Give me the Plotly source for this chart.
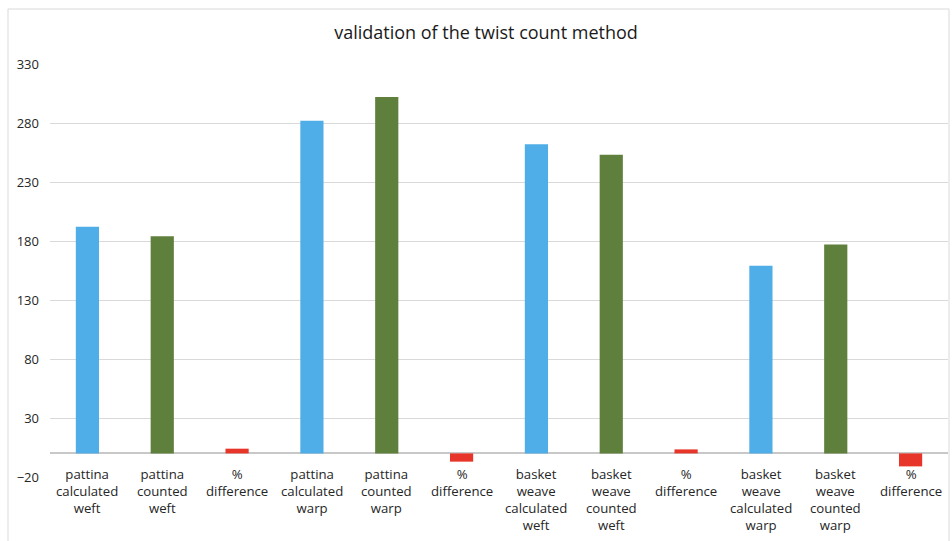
import plotly.graph_objects as go

# ---- data ----
categories = [
    "pattina<br>calculated<br>weft", "pattina<br>counted<br>weft", "%<br>difference",
    "pattina<br>calculated<br>warp", "pattina<br>counted<br>warp", "%<br>difference",
    "basket<br>weave<br>calculated<br>weft", "basket<br>weave<br>counted<br>weft", "%<br>difference",
    "basket<br>weave<br>calculated<br>warp", "basket<br>weave<br>counted<br>warp", "%<br>difference",
]
values = [192, 184, 4, 282, 302, -7, 262, 253, 3.4, 159, 177, -11]
kinds = ["calc", "count", "diff"] * 4
tick_vals_y = [-20, 30, 80, 130, 180, 230, 280, 330]
title_text = "validation of the twist count method"

colors = {"calc": "#4FAEE7", "count": "#5F803C", "diff": "#E8352A"}
FONT = "Open Sans, Liberation Sans, sans-serif"

xs = list(range(len(categories)))

fig = go.Figure()
fig.add_trace(go.Bar(
    x=xs, y=values,
    marker=dict(color=[colors[k] for k in kinds], line=dict(width=0)),
    width=0.31,
    showlegend=False,
    hoverinfo="y",
))

for x, lab in zip(xs, categories):
    fig.add_annotation(
        x=x, y=0, xref="x", yref="y", text=lab, showarrow=False,
        yanchor="top", xanchor="center", yshift=-10,
        font=dict(family=FONT, size=13.2, color="#262626"),
        align="center",
    )

W, H = 952, 541
L, R, T, B = 50, 4, 64, 64
pw, ph = W - L - R, H - T - B
# light outer chart border (spreadsheet frame)
fig.add_shape(
    type="rect", xref="paper", yref="paper",
    x0=(8 - L) / pw, x1=(949 - L) / pw,
    y0=-(B + 20) / ph, y1=(H - B - 9) / ph,
    line=dict(color="#D9D9D9", width=1), fillcolor="rgba(0,0,0,0)", layer="below",
)

fig.update_layout(
    width=W, height=H,
    margin=dict(l=L, r=R, t=T, b=B, autoexpand=False),
    paper_bgcolor="white", plot_bgcolor="white",
    title=dict(text=title_text, x=486 / W, xanchor="center", y=1 - 33 / H, yanchor="middle",
               font=dict(family=FONT, size=18, color="#1a1a1a")),
    xaxis=dict(range=[-0.5, len(categories) - 0.5], showticklabels=False, showgrid=False,
               zeroline=False, showline=False, ticks="", automargin=False),
    yaxis=dict(range=[-20, 330], tickvals=tick_vals_y, showgrid=True, gridcolor="#D9D9D9", gridwidth=1,
               zeroline=True, zerolinecolor="#C8C8C8", zerolinewidth=1.5, showline=False,
               tickfont=dict(family=FONT, size=13, color="#262626"), ticks="",
               ticklabelstandoff=10, automargin=False),
    bargap=0.69,
)

fig.write_html("out.html", config={"displayModeBar": False},
               post_script="document.body.style.margin='0';")
